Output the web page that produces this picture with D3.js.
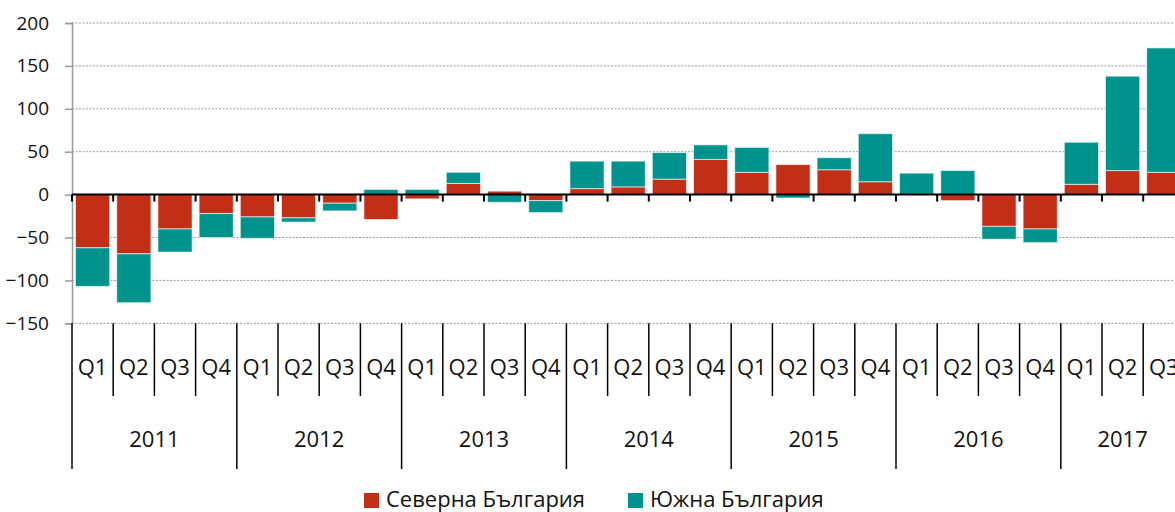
<!DOCTYPE html>
<html>
<head>
<meta charset="utf-8">
<script src="https://cdn.jsdelivr.net/npm/d3@7"></script>
<style>
    body { margin: 0; background: #fff; }
    svg { display: block; font-family: "Open Sans", sans-serif; }
</style>
</head>
<body>
<svg id="chart" width="1175" height="512"></svg>
<script>
// Data
const years = ['2011', '2012', '2013', '2014', '2015', '2016', '2017'];
const quarters = ['Q1', 'Q2', 'Q3', 'Q4'];
const quartersPerYear = [4, 4, 4, 4, 4, 4, 3];
const seriesNames = ['Северна България', 'Южна България'];
const north = [-62, -69, -40, -22, -26, -27, -10, -29, -5, 13, 4, -7, 7, 9, 18, 41,
    26, 35, 29, 15, 0, -7, -37, -40, 12, 28, 26];
const south = [-45, -57, -27, -28, -25, -5, -9, 6, 6, 13, -9, -14, 32, 30, 31, 17,
    29, -4, 14, 56, 25, 28, -15, -16, 49, 110, 145];
const yTicks = [-150, -100, -50, 0, 50, 100, 150, 200];

const COLORS = ['#C32F16', '#00938E'];

// Layout
const M = { left: 72, top: 23, bottom: 323.3 };
const plotRight = 72 + 27 * 41.2;

// build category rows
const rows = [];
years.forEach((y, yi) => {
    for (let q = 0; q < quartersPerYear[yi]; q++) {
        const i = rows.length;
        rows.push({ key: y + quarters[q], year: y, q: quarters[q], north: north[i], south: south[i] });
    }
});

const svg = d3.select('#chart');

const x = d3.scaleBand()
    .domain(rows.map(d => d.key))
    .range([M.left, plotRight])
    .paddingInner(0.17)
    .paddingOuter(0.085);

const y = d3.scaleLinear()
    .domain([-150, 200])
    .range([M.bottom, M.top]);

// dotted grid
svg.append('g')
    .selectAll('line')
    .data(yTicks.filter(t => t !== 0))
    .join('line')
    .attr('x1', M.left).attr('x2', 1175)
    .attr('y1', d => y(d)).attr('y2', d => y(d))
    .attr('stroke', '#9a9a9a')
    .attr('stroke-width', 1)
    .attr('stroke-dasharray', '2,1.5');

// y axis
const yAxis = svg.append('g')
    .attr('transform', `translate(${M.left},0)`)
    .call(d3.axisLeft(y).tickValues(yTicks).tickSize(7).tickPadding(16).tickFormat(d3.format('d')));
yAxis.select('.domain').attr('stroke', '#999').attr('stroke-width', 1.5);
yAxis.selectAll('.tick line').attr('stroke', '#999').attr('stroke-width', 1.5);
yAxis.selectAll('.tick text')
    .attr('fill', '#111')
    .style('font-size', '19px')
    .style('font-family', '"Open Sans", sans-serif');

// stacked bars (diverging)
const stack = d3.stack()
    .keys(['north', 'south'])
    .offset(d3.stackOffsetDiverging);
const series = stack(rows);

svg.append('g')
    .selectAll('g')
    .data(series)
    .join('g')
    .attr('fill', (d, i) => COLORS[i])
    .selectAll('rect')
    .data(d => d.map(v => ({ v, key: v.data.key })))
    .join('rect')
    .attr('x', d => x(d.key))
    .attr('width', x.bandwidth())
    .attr('y', d => y(Math.max(d.v[0], d.v[1])))
    .attr('height', d => Math.abs(y(d.v[0]) - y(d.v[1])))
    .attr('stroke', '#fff')
    .attr('stroke-opacity', 0.6)
    .attr('stroke-width', 1);

// zero line with category ticks
const step = x.step();
const boundaries = d3.range(rows.length + 1).map(i => M.left + i * step);
svg.append('line')
    .attr('x1', M.left).attr('x2', 1175)
    .attr('y1', y(0)).attr('y2', y(0))
    .attr('stroke', '#000').attr('stroke-width', 2);
svg.append('g')
    .selectAll('line')
    .data(boundaries)
    .join('line')
    .attr('x1', d => d).attr('x2', d => d)
    .attr('y1', y(0)).attr('y2', y(0) + 7)
    .attr('stroke', '#000').attr('stroke-width', 2);

// bottom category axis: quarter separators and labels
const yearStart = [];
let acc = 0;
quartersPerYear.forEach(n => { yearStart.push(acc); acc += n; });

svg.append('g')
    .selectAll('line')
    .data(boundaries.map((b, i) => ({ b, isYear: yearStart.includes(i) || i === rows.length })))
    .join('line')
    .attr('x1', d => d.b).attr('x2', d => d.b)
    .attr('y1', M.bottom)
    .attr('y2', d => d.isYear ? 469 : 396)
    .attr('stroke', '#000').attr('stroke-width', 1.5);

svg.append('g')
    .selectAll('text')
    .data(rows)
    .join('text')
    .attr('x', d => x(d.key) + x.bandwidth() / 2)
    .attr('y', 375)
    .attr('text-anchor', 'middle')
    .attr('fill', '#111')
    .style('font-size', '22px')
    .text(d => d.q);

svg.append('g')
    .selectAll('text')
    .data(years)
    .join('text')
    .attr('x', (d, i) => M.left + (yearStart[i] + quartersPerYear[i] / 2) * step)
    .attr('y', 447)
    .attr('text-anchor', 'middle')
    .attr('fill', '#111')
    .style('font-size', '22px')
    .text(d => d);

// legend
const legendX = [364, 628];
const legend = svg.append('g')
    .selectAll('g')
    .data(seriesNames)
    .join('g')
    .attr('transform', (d, i) => `translate(${legendX[i]},493)`);
legend.append('rect')
    .attr('width', 15).attr('height', 15)
    .attr('fill', (d, i) => COLORS[i]);
legend.append('text')
    .attr('x', 22).attr('y', 14)
    .attr('fill', '#111')
    .style('font-size', '22px')
    .text(d => d);
</script>
</body>
</html>
